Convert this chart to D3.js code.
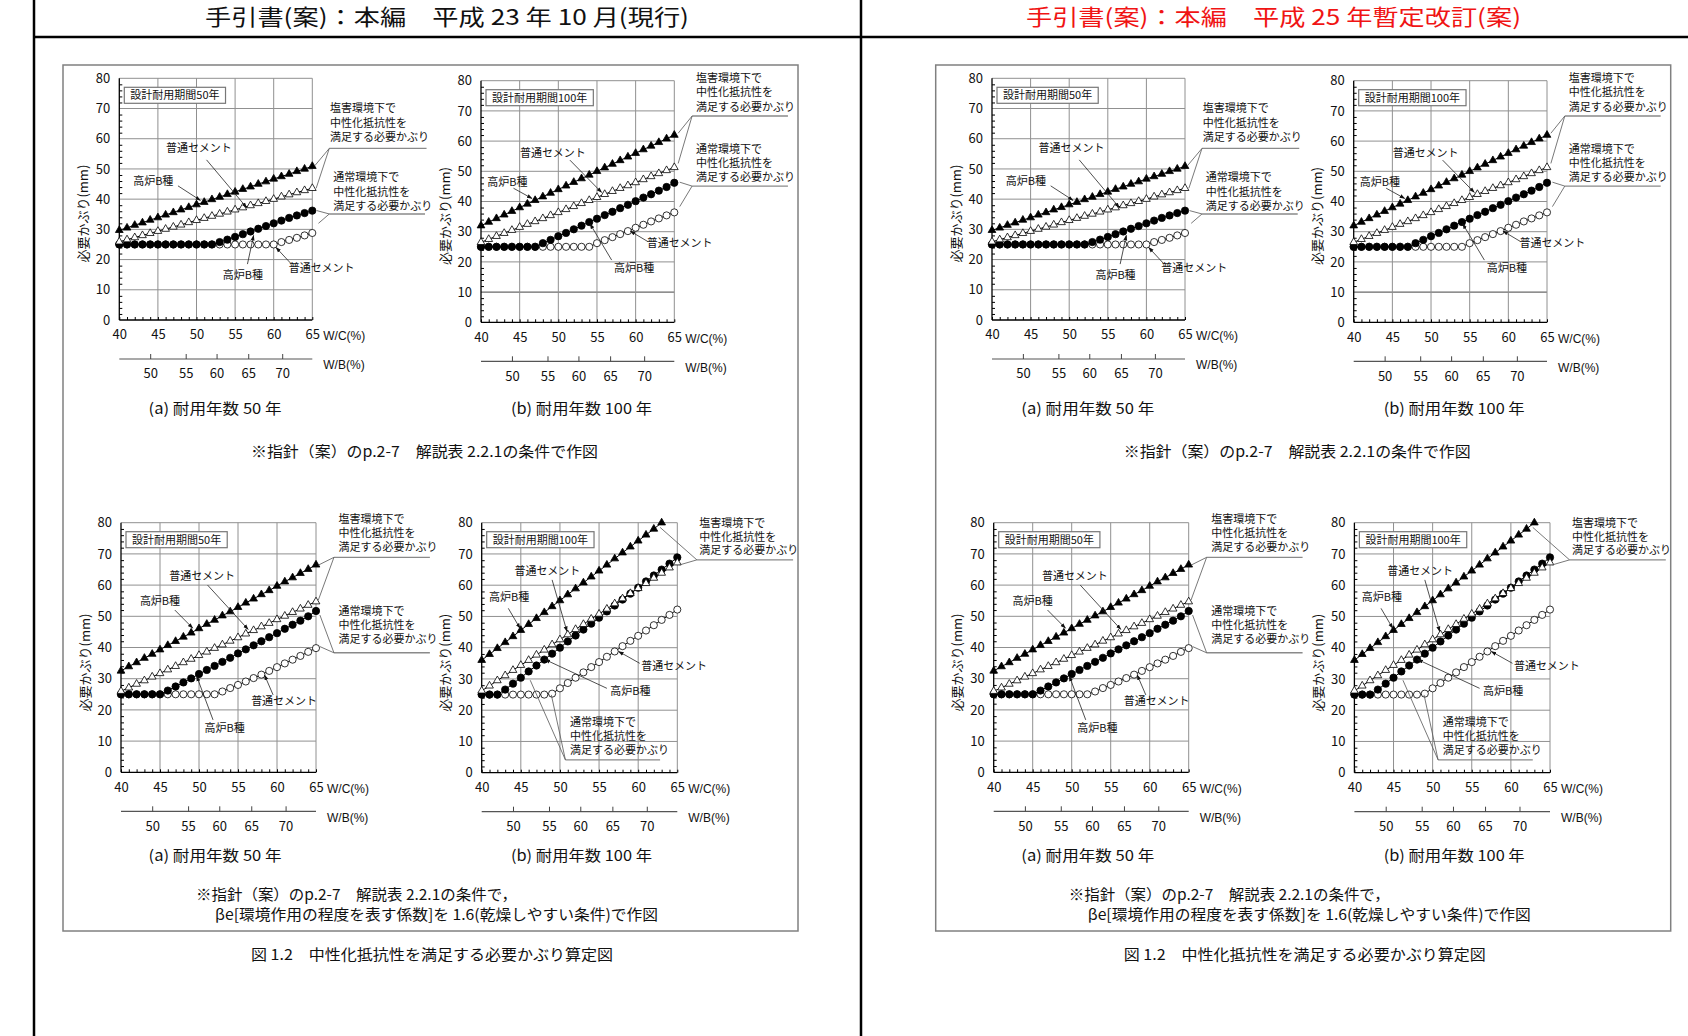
<!DOCTYPE html>
<html>
<head>
<meta charset="utf-8">
<script src="https://cdn.jsdelivr.net/npm/d3@7"></script>
<style>
body { margin: 0; background: #fff; }
svg { display: block; }
text { font-family: "Noto Sans CJK JP", "Noto Sans", sans-serif; fill: #111; }
</style>
</head>
<body>
<svg id="page" width="1688" height="1036"></svg>
<script>

// ---- data ----
var titles = ['手引書(案)：本編　平成 23 年 10 月(現行)', '手引書(案)：本編　平成 25 年暫定改訂(案)']

var wc = [40,41,42,43,44,45,46,47,48,49,50,51,52,53,54,55,56,57,58,59,60,61,62,63,64,65]
var xTicks = [40,45,50,55,60,65]
var yTicks = [0,10,20,30,40,50,60,70,80]
var yMinor = [2,4,6,8,12,14,16,18,22,24,26,28,32,34,36,38,42,44,46,48,52,54,56,58,62,64,66,68,72,74,76,78]
var wbTicks = [50,55,60,65,70]
var wbTickAt = [44.0,48.6,52.6,56.7,61.1]   // W/C position of each W/B tick

// (a) 50 years
var a50NormOPC = [25,25,25,25,25,25,25,25,25,25,25,25,25,25,25,25,25,25,25,25,25,25.8,26.5,27.2,28.0,28.8]
var a50NormBFB = [25,25,25,25,25,25,25,25,25,25,25,25,25,25.8,26.6,27.5,28.4,29.3,30.2,31.1,32.0,32.9,33.8,34.6,35.4,36.2]
var a50SaltOPC = [25.9,26.6,27.3,28.0,28.7,29.4,30.1,30.8,31.5,32.3,33.0,33.7,34.4,35.1,35.8,36.5,37.2,37.9,38.6,39.3,40.0,40.8,41.5,42.2,42.9,43.6]
var a50SaltBFB = [29.7,30.5,31.4,32.2,33.1,33.9,34.8,35.6,36.5,37.3,38.2,39.0,39.9,40.7,41.6,42.4,43.3,44.1,45.0,45.8,46.7,47.5,48.3,49.2,50.0,50.9]

// (b) 100 years
var b100NormOPC = [25,25,25,25,25,25,25,25,25,25,25,25,25,25,25,26.2,27.2,28.2,29.2,30.2,31.3,32.3,33.4,34.4,35.4,36.4]
var b100NormBFB = [25,25,25,25,25,25,25,25,26.2,27.3,28.5,29.6,30.8,32.0,33.2,34.3,35.5,36.6,37.8,38.9,40.1,41.3,42.4,43.6,44.8,46.2]
var b100SaltOPC = [26.5,27.5,28.5,29.5,30.5,31.5,32.5,33.4,34.4,35.4,36.4,37.4,38.4,39.4,40.4,41.4,42.4,43.4,44.4,45.3,46.3,47.3,48.3,49.3,50.3,51.3]
var b100SaltBFB = [32.0,33.2,34.4,35.6,36.8,38.0,39.2,40.4,41.6,42.8,44.0,45.2,46.4,47.6,48.8,50.0,51.2,52.4,53.6,54.8,56.0,57.2,58.4,59.6,60.8,62.0]

// (a) 50 years, beta e = 1.6
var c50NormOPC = [25,25,25,25,25,25,25,25,25,25,25,25,25,25.9,27.0,28.0,29.1,30.2,31.3,32.5,33.7,34.9,36.1,37.3,38.6,39.8]
var c50NormBFB = [25,25,25,25,25,25,26.2,27.5,28.8,30.1,31.5,32.8,34.1,35.4,36.7,38.1,39.4,40.7,42.0,43.3,44.6,46.0,47.3,48.6,50.0,51.7]
var c50SaltOPC = [26.0,27.1,28.3,29.4,30.6,31.7,32.9,34.0,35.2,36.3,37.5,38.6,39.8,40.9,42.1,43.2,44.4,45.5,46.7,47.8,49.0,50.1,51.3,52.4,53.6,54.7]
var c50SaltBFB = [32.5,33.9,35.2,36.6,37.9,39.3,40.7,42.0,43.4,44.7,46.1,47.5,48.8,50.2,51.5,52.9,54.3,55.6,57.0,58.3,59.7,61.1,62.4,63.8,65.1,66.5]

// (b) 100 years, beta e = 1.6
var d100NormOPC = [25,25,25,25,25,25,25,25,25,25.3,27.0,28.7,30.4,32.1,33.8,35.4,37.1,38.8,40.5,42.2,43.8,45.5,47.2,48.9,50.5,52.2]
var d100NormBFB = [25,25,25,26.6,28.5,30.4,32.4,34.3,36.2,38.1,40.0,42.0,43.9,45.8,47.7,49.6,51.6,53.5,55.4,57.3,59.2,61.2,63.1,65.0,66.9,68.9]
var d100SaltOPC = [26.2,27.8,29.5,31.1,32.8,34.4,36.0,37.7,39.3,41.0,42.6,44.2,45.9,47.5,49.2,50.8,52.4,54.1,55.7,57.4,59.0,60.6,62.3,63.9,65.6,67.2]
var d100SaltBFB = [36.0,37.9,39.8,41.7,43.6,45.6,47.5,49.4,51.3,53.2,55.1,57.0,58.9,60.8,62.7,64.6,66.5,68.5,70.4,72.3,74.2,76.1,78.0,80.0]

var saltNote = ['塩害環境下で', '中性化抵抗性を', '満足する必要かぶり']
var normNote = ['通常環境下で', '中性化抵抗性を', '満足する必要かぶり']

// arrow labels: text, text centre (W/C, mm), arrow from (W/C, mm) to (W/C, mm)
var arrowsA = [
    ['普通セメント', 50.3, 56.9, 51.3, 53.0, 56.5, 37.2],
    ['高炉B種', 44.4, 46.1, 47.6, 44.4, 50.5, 39.6],
    ['高炉B種', 56.0, 14.9, 56.6, 18.5, 57.4, 28.0],
    ['普通セメント', 66.2, 17.2, 62.3, 18.5, 60.3, 24.0]
]
var arrowsB = [
    ['普通セメント', 49.3, 56.2, 51.5, 53.7, 55.6, 43.0],
    ['高炉B種', 43.4, 46.6, 44.2, 44.4, 46.6, 41.0],
    ['普通セメント', 65.7, 26.2, 61.6, 26.7, 59.3, 30.2],
    ['高炉B種', 59.8, 17.9, 56.9, 20.6, 54.1, 32.6]
]
var arrowsC = [
    ['普通セメント', 50.4, 62.9, 51.1, 60.0, 56.3, 45.8],
    ['高炉B種', 45.0, 54.9, 46.9, 52.0, 49.2, 46.2],
    ['普通セメント', 60.9, 22.9, 59.5, 24.8, 58.4, 31.2],
    ['高炉B種', 53.3, 14.2, 51.8, 16.8, 49.7, 30.8]
]
var arrowsD = [
    ['普通セメント', 48.4, 64.6, 49.0, 61.7, 50.9, 45.2],
    ['高炉B種', 43.5, 56.2, 43.4, 52.6, 44.9, 46.2],
    ['普通セメント', 64.6, 34.2, 60.2, 35.0, 57.5, 38.8],
    ['高炉B種', 59.0, 26.1, 56.0, 27.0, 48.1, 36.2]
]

// three-line notes: text left (W/C), line centres (mm), underline (mm) and its W/C span, leader ends
var notesA = [
    [saltNote, 67.3, [70.1, 65.3, 60.5], 56.8, [67.2, 79.8], [[65.3, 51.0], [65.5, 43.6]]],
    [normNote, 67.7, [47.2, 42.5, 37.8], 35.1, [67.2, 79.6], [[65.6, 36.2], [65.8, 32.0]]]
]
var notesB = [
    [saltNote, 67.8, [80.8, 76.2, 71.4], 68.3, [67.3, 79.7], [[65.5, 62.6], [65.5, 52.6]]],
    [normNote, 67.8, [57.3, 52.6, 48.2], 45.1, [67.3, 79.7], [[65.7, 46.4], [65.7, 38.3]]]
]
var notesC = [
    [saltNote, 67.9, [81.3, 76.8, 72.2], 68.9, [67.3, 79.6], [[65.3, 66.4], [65.3, 55.2]]],
    [normNote, 67.9, [51.7, 47.2, 42.6], 38.3, [67.3, 79.6], [[65.5, 50.4], [65.5, 40.3]]]
]
var notesD = [
    [saltNote, 67.8, [80.0, 75.5, 71.3], 68.1, [67.5, 79.8], [[62.8, 78.5], [65.3, 66.5]]],
    [normNote, 51.3, [16.3, 11.8, 7.3], 4.1, [50.7, 62.8], [[46.2, 29.6], [48.9, 24.9]]]
]

// ---- layout ----
var charts = [
    { left: 119.3, top: 78.3, w: 193, h: 241.7, label: '設計耐用期間50年',
      series: [a50NormOPC, a50NormBFB, a50SaltOPC, a50SaltBFB], arrows: arrowsA, notes: notesA },
    { left: 481, top: 80.7, w: 193.3, h: 241.6, label: '設計耐用期間100年', darkGrid: 10,
      series: [b100NormOPC, b100NormBFB, b100SaltOPC, b100SaltBFB], arrows: arrowsB, notes: notesB },
    { left: 121, top: 522.7, w: 195, h: 249.6, label: '設計耐用期間50年',
      series: [c50NormOPC, c50NormBFB, c50SaltOPC, c50SaltBFB], arrows: arrowsC, notes: notesC },
    { left: 481.7, top: 522.7, w: 195.6, h: 250, label: '設計耐用期間100年',
      series: [d100NormOPC, d100NormBFB, d100SaltOPC, d100SaltBFB], arrows: arrowsD, notes: notesD }
]

var markerStyles = [
    { sym: d3.symbolCircle, size: 40, fill: '#fff' },
    { sym: d3.symbolCircle, size: 42, fill: '#000' },
    { sym: d3.symbolTriangle, size: 26, fill: '#fff' },
    { sym: d3.symbolTriangle, size: 26, fill: '#000' }
]

var numFont = 'Liberation Sans, Arial, sans-serif'

var svg = d3.select('#page')

svg.append('defs').append('marker')
    .attr('id', 'arr')
    .attr('viewBox', '0 0 10 10')
    .attr('refX', 9)
    .attr('refY', 5)
    .attr('markerWidth', 7)
    .attr('markerHeight', 7)
    .attr('orient', 'auto')
    .append('path')
    .attr('d', 'M0,1.5L10,5L0,8.5z')
    .attr('fill', '#111')

// page frame
svg.append('line').attr('x1', 34).attr('x2', 34).attr('y1', 0).attr('y2', 1036)
    .attr('stroke', '#000').attr('stroke-width', 2.5)
svg.append('line').attr('x1', 861).attr('x2', 861).attr('y1', 0).attr('y2', 1036)
    .attr('stroke', '#000').attr('stroke-width', 2.5)
svg.append('line').attr('x1', 34).attr('x2', 1688).attr('y1', 37).attr('y2', 37)
    .attr('stroke', '#000').attr('stroke-width', 2.5)

svg.append('text')
    .attr('x', 447).attr('y', 17.5).attr('dy', '0.36em')
    .attr('text-anchor', 'middle').attr('font-size', 22)
    .attr('textLength', 484).attr('lengthAdjust', 'spacingAndGlyphs')
    .text(titles[0])
svg.append('text')
    .attr('x', 1273.5).attr('y', 17.5).attr('dy', '0.36em')
    .attr('text-anchor', 'middle').attr('font-size', 22)
    .attr('textLength', 495).attr('lengthAdjust', 'spacingAndGlyphs')
    .style('fill', '#f01414')
    .text(titles[1])

drawPanel(0)
drawPanel(872.7)

function drawPanel(dx) {

    var p = svg.append('g').attr('transform', 'translate(' + dx + ',0)')

    p.append('rect')
        .attr('x', 63).attr('y', 65).attr('width', 735).attr('height', 866)
        .attr('fill', 'none').attr('stroke', '#808080').attr('stroke-width', 1.5)

    charts.forEach(function(c) {
        drawChart(p, c)
    })

    var caps = [
        ['(a)  耐用年数 50 年', 148.6, 409, 133, 15],
        ['(b)  耐用年数 100 年', 511, 409, 141, 15],
        ['※指針（案）のp.2-7　解説表 2.2.1の条件で作図', 251, 452, 347, 15],
        ['(a)  耐用年数 50 年', 148.6, 856, 133, 15],
        ['(b)  耐用年数 100 年', 511, 856, 141, 15],
        ['※指針（案）のp.2-7　解説表 2.2.1の条件で，', 196, 894.6, 321, 15],
        ['βe[環境作用の程度を表す係数]を 1.6(乾燥しやすい条件)で作図', 215, 915, 443, 15],
        ['図 1.2　中性化抵抗性を満足する必要かぶり算定図', 251, 955, 362, 15]
    ]
    p.selectAll('text.cap')
        .data(caps)
        .enter()
        .append('text')
        .attr('class', 'cap')
        .attr('x', function(d) { return d[1] })
        .attr('y', function(d) { return d[2] })
        .attr('dy', '0.36em')
        .attr('font-size', function(d) { return d[4] })
        .attr('textLength', function(d) { return d[3] })
        .attr('lengthAdjust', 'spacingAndGlyphs')
        .text(function(d) { return d[0] })
}

function drawChart(p, c) {

    var x = d3.scaleLinear().domain([40, 65]).range([c.left, c.left + c.w])
    var y = d3.scaleLinear().domain([0, 80]).range([c.top + c.h, c.top])
    var bottom = c.top + c.h
    var right = c.left + c.w

    var g = p.append('g')

    // grid
    g.append('g')
        .selectAll('line')
        .data(yTicks.slice(1))
        .enter()
        .append('line')
        .attr('x1', c.left).attr('x2', right)
        .attr('y1', function(d) { return y(d) })
        .attr('y2', function(d) { return y(d) })
        .attr('stroke', function(d) { return d === c.darkGrid ? '#444' : '#909090' })
        .attr('stroke-width', 1)

    g.append('g')
        .selectAll('line')
        .data(xTicks.slice(1))
        .enter()
        .append('line')
        .attr('y1', c.top).attr('y2', bottom)
        .attr('x1', function(d) { return x(d) })
        .attr('x2', function(d) { return x(d) })
        .attr('stroke', '#909090')
        .attr('stroke-width', 1)

    // minor ticks, pointing in
    g.append('g')
        .attr('transform', 'translate(' + c.left + ',0)')
        .call(d3.axisLeft(y).tickValues(yMinor).tickSize(-3).tickFormat(''))
        .call(function(a) { a.select('.domain').remove() })
    g.append('g')
        .attr('transform', 'translate(0,' + bottom + ')')
        .call(d3.axisBottom(x).tickValues(wc).tickSize(-3).tickFormat(''))
        .call(function(a) { a.select('.domain').remove() })

    // axis lines
    g.append('line').attr('x1', c.left).attr('x2', c.left).attr('y1', c.top).attr('y2', bottom)
        .attr('stroke', '#000').attr('stroke-width', 1.3)
    g.append('line').attr('x1', c.left).attr('x2', right).attr('y1', bottom).attr('y2', bottom)
        .attr('stroke', '#000').attr('stroke-width', 1.3)

    // tick labels
    g.append('g')
        .attr('transform', 'translate(' + c.left + ',0)')
        .call(d3.axisLeft(y).tickValues(yTicks).tickSize(0).tickPadding(9))
        .attr('font-family', numFont)
        .attr('font-size', 13)
        .call(function(a) { a.select('.domain').remove() })

    g.append('g')
        .attr('transform', 'translate(0,' + bottom + ')')
        .call(d3.axisBottom(x).tickValues(xTicks).tickSize(0).tickPadding(10))
        .attr('font-family', numFont)
        .attr('font-size', 13)
        .call(function(a) { a.select('.domain').remove() })

    g.append('text')
        .attr('x', right + 11).attr('y', bottom + 16).attr('dy', '0.35em')
        .style('font-family', numFont)
        .attr('font-size', 12)
        .text('W/C(%)')

    // W/B axis
    var wbY = bottom + 39
    var wbScale = d3.scaleLinear().domain(wbTicks).range(wbTickAt.map(function(v) { return x(v) }))
    g.append('line').attr('x1', c.left).attr('x2', right).attr('y1', wbY).attr('y2', wbY)
        .attr('stroke', '#555').attr('stroke-width', 1.2)
    g.append('g')
        .attr('transform', 'translate(0,' + wbY + ')')
        .call(d3.axisBottom(wbScale).tickValues(wbTicks).tickSize(-5).tickPadding(10))
        .attr('font-family', numFont)
        .attr('font-size', 13)
        .call(function(a) {
            a.select('.domain').remove()
            a.selectAll('line').attr('stroke', '#444')
        })
    g.append('text')
        .attr('x', right + 11).attr('y', wbY + 6).attr('dy', '0.35em')
        .style('font-family', numFont)
        .attr('font-size', 12)
        .text('W/B(%)')

    // y label
    g.append('text')
        .attr('transform', 'translate(' + (c.left - 36) + ',' + (c.top + c.h * 0.56) + ') rotate(-90)')
        .attr('text-anchor', 'middle')
        .attr('dy', '0.35em')
        .attr('font-size', 13)
        .text('必要かぶり(mm)')

    // period label box
    var box = g.append('rect')
        .attr('x', c.left + 5).attr('y', c.top + 9)
        .attr('height', 16)
        .attr('fill', '#fff').attr('stroke', '#777').attr('stroke-width', 1.2)
    var lt = g.append('text')
        .attr('x', c.left + 11).attr('y', c.top + 17).attr('dy', '0.36em')
        .attr('font-size', 11)
        .text(c.label)
    box.attr('width', lt.node().getComputedTextLength() + 12)

    // series
    var line = d3.line()
        .x(function(d, i) { return x(wc[i]) })
        .y(function(d) { return y(d) })

    c.series.forEach(function(vals, k) {
        var st = markerStyles[k]
        g.append('path')
            .attr('d', line(vals))
            .attr('fill', 'none')
            .attr('stroke', '#000')
            .attr('stroke-width', 1)
        g.append('g')
            .selectAll('path')
            .data(vals)
            .enter()
            .append('path')
            .attr('d', d3.symbol().type(st.sym).size(st.size))
            .attr('transform', function(d, i) { return 'translate(' + x(wc[i]) + ',' + y(d) + ')' })
            .attr('fill', st.fill)
            .attr('stroke', '#000')
            .attr('stroke-width', 0.8)
    })

    // three-line notes
    c.notes.forEach(function(n) {
        n[0].forEach(function(t, i) {
            g.append('text')
                .attr('x', x(n[1])).attr('y', y(n[2][i])).attr('dy', '0.36em')
                .attr('font-size', 11)
                .text(t)
        })
        g.append('line')
            .attr('x1', x(n[4][0])).attr('x2', x(n[4][1]))
            .attr('y1', y(n[3])).attr('y2', y(n[3]))
            .attr('stroke', '#8a8a8a').attr('stroke-width', 1.4)
        n[5].forEach(function(e) {
            g.append('line')
                .attr('x1', x(n[4][0])).attr('y1', y(n[3]))
                .attr('x2', x(e[0])).attr('y2', y(e[1]))
                .attr('stroke', '#555').attr('stroke-width', 0.8)
        })
    })

    // arrow labels
    c.arrows.forEach(function(a) {
        g.append('text')
            .attr('x', x(a[1])).attr('y', y(a[2])).attr('dy', '0.36em')
            .attr('text-anchor', 'middle')
            .attr('font-size', 11)
            .text(a[0])
        g.append('line')
            .attr('x1', x(a[3])).attr('y1', y(a[4]))
            .attr('x2', x(a[5])).attr('y2', y(a[6]))
            .attr('stroke', '#222').attr('stroke-width', 0.8)
            .attr('marker-end', 'url(#arr)')
    })
}
</script>
</body>
</html>
